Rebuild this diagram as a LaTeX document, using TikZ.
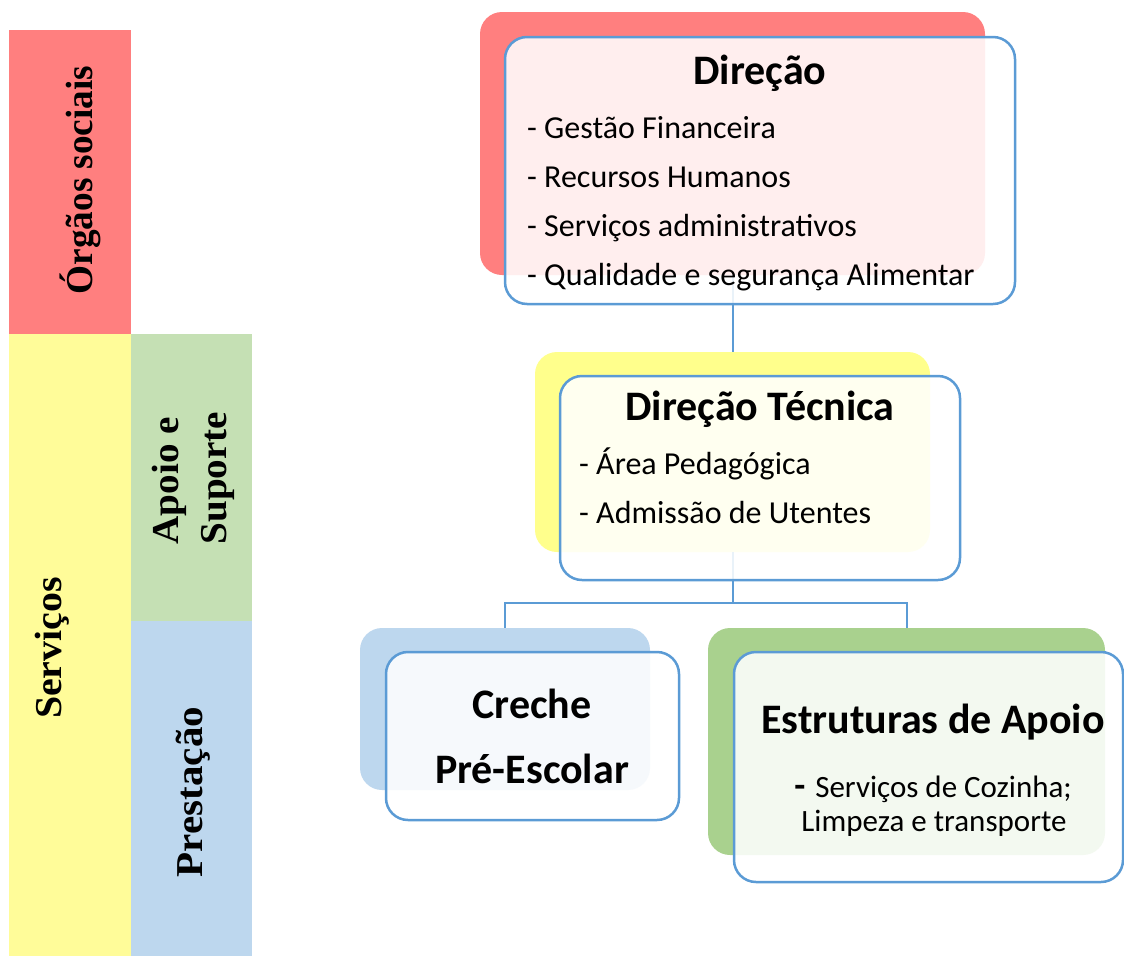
\documentclass[tikz,border=0pt]{standalone}
\usepackage{fontspec}
\setmainfont{Carlito}
\newfontfamily\barfont{Liberation Serif}
\usetikzlibrary{positioning}

\definecolor{orgred}{HTML}{FF7F7F}
\definecolor{servyellow}{HTML}{FFFC99}
\definecolor{apoiogreen}{HTML}{C5E0B4}
\definecolor{prestblue}{HTML}{BDD7EE}
\definecolor{boxyellow}{HTML}{FFFF8C}
\definecolor{boxgreen}{HTML}{A9D18E}
\definecolor{edgeblue}{HTML}{5B9BD5}

\newcommand{\barstretch}[2][1.03]{\scalebox{#1}[1]{#2}}

\tikzset{
    backbox/.style = {shape = rectangle, rounded corners = 22pt, inner sep = 0pt},
    frontbox/.style = {shape = rectangle, rounded corners = 22pt, draw = edgeblue, line width = 2.5pt,
        fill = white, fill opacity = 0.87, inner sep = 0pt},
    bar/.style = {shape = rectangle, inner sep = 0pt},
    bartext/.style = {font = \fontsize{38}{48}\selectfont\barfont\bfseries, rotate = 90, inner sep = 0pt},
    title/.style = {font = \fontsize{42}{49}\selectfont\bfseries, anchor = base, inner sep = 0pt},
    item/.style = {font = \fontsize{32}{49}\selectfont, anchor = base west, inner sep = 0pt},
    note/.style = {font = \fontsize{31}{34}\selectfont, anchor = base, inner sep = 0pt},
    link/.style = {draw = edgeblue, line width = 2pt}
}

\begin{document}
\begin{tikzpicture}[x = 1pt, y = -1pt]
    \useasboundingbox (0,0) rectangle (1124,956);
    % left column
    \node[bar, fill = orgred, minimum width = 122, minimum height = 304] (Org) at (70,182) {};
    \node[bar, fill = servyellow, minimum width = 122, minimum height = 622] (Serv) at (70,645) {};
    \node[bar, fill = apoiogreen, minimum width = 121, minimum height = 287] (Apoio) at (191.5,477.5) {};
    \node[bar, fill = prestblue, minimum width = 121, minimum height = 335] (Prest) at (191.5,788.5) {};
    \node[bartext] (OrgLabel) at (80,180) {\barstretch[0.98]{Órgãos sociais}};
    \node[bartext] (ServLabel) at (52,648) {\barstretch[1.05]{Serviços}};
    \node[bartext] (ApoioLabel) at (193,478) {\barstretch{\begin{tabular}{@{}l@{}}Apoio e\\Suporte\end{tabular}}};
    \node[bartext] (PrestLabel) at (193,792) {\barstretch[1.08]{Prestação}};

    % back boxes
    \node[backbox, fill = orgred, minimum width = 505, minimum height = 263] (DirBack) at (732.5,143.5) {};
    \node[backbox, fill = boxyellow, minimum width = 395, minimum height = 200] (TecBack) at (732.5,452) {};
    \node[backbox, fill = prestblue, minimum width = 290, minimum height = 162] (CreBack) at (505,709) {};
    \node[backbox, fill = boxgreen, minimum width = 397, minimum height = 227] (EstBack) at (906.5,741.5) {};

    % connectors
    \coordinate (Split) at (732.5,603);
    \draw[link] (DirBack.south) -- (TecBack.north);
    \draw[link] (TecBack.south) -- (Split);
    \draw[link] (Split) -| (CreBack.north);
    \draw[link] (Split) -| (EstBack.north);

    % front boxes
    \node[frontbox, minimum width = 510, minimum height = 267] (DirFront) at (760,170.5) {};
    \node[frontbox, minimum width = 400, minimum height = 204] (TecFront) at (760,478) {};
    \node[frontbox, minimum width = 293, minimum height = 168] (CreFront) at (532.5,736) {};
    \node[frontbox, minimum width = 389, minimum height = 230] (EstFront) at (928.5,767) {};

    % texts
    \node[title] (DirTitle) at (760,84) {Direção};
    \foreach \txt [count = \i] in {Gestão Financeira, Recursos Humanos, Serviços administrativos, Qualidade e segurança Alimentar}
        \node[item] (DirItem\i) at (527,{89+49*\i}) {- \txt};
    \node[title] (TecTitle) at (760,420) {Direção Técnica};
    \foreach \txt [count = \i] in {Área Pedagógica, Admissão de Utentes}
        \node[item] (TecItem\i) at (579,{425+49*\i}) {- \txt};
    \node[title] (CreTitle) at (532,718) {Creche};
    \node[title] (CreSub) at (532,783) {Pré-Escolar};
    \node[title] (EstTitle) at (933,733) {Estruturas de Apoio};
    \node[note] (EstNote1) at (933,797) {{\fontsize{36}{34}\selectfont\bfseries -}\hspace{10pt}Serviços de Cozinha;};
    \node[note] (EstNote2) at (934,831) {Limpeza e transporte};
\end{tikzpicture}
\end{document}
